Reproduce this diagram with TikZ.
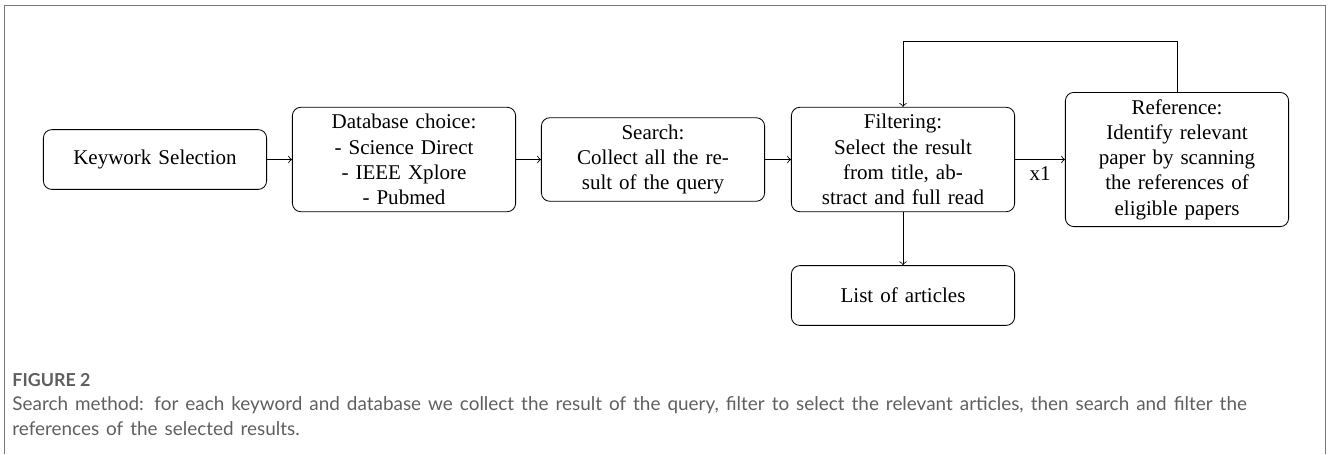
\documentclass[tikz,border=0pt]{standalone}
\usepackage{fontspec}
\setmainfont{Liberation Serif}
\newfontfamily\capfont{Lato}
\definecolor{framegray}{RGB}{120,120,120}
\definecolor{captiongray}{RGB}{95,95,95}
\tikzset{
 stage/.style={draw, rounded corners, align=center, text width=3.5cm, minimum height=1cm},
 link/.style={->},
}
\begin{document}
\begin{tikzpicture}[x=0.476pt,y=-0.476pt]
 \useasboundingbox (0,0) rectangle (1328,454);
 % page frame
 \draw[framegray](4,454)--(4,5)--(1325,5)--(1325,454);
 % stages
 \node[stage] (kw) at (155,159.5) {Keywork Selection};
 \node[stage] (db) at (404,159.5) {Database choice:\\- Science Direct\\- IEEE Xplore\\- Pubmed};
 \node[stage] (srch) at (653,159.5) {Search:\\Collect all the re-\\sult of the query};
 \node[stage] (filt) at (903,159.5) {Filtering:\\Select the result\\from title, ab-\\stract and full read};
 \node[stage] (ref) at (1177,159.5) {Reference:\\Identify relevant\\paper by scanning\\the references of\\eligible papers};
 \node[stage] (list) at (903,295.5) {List of articles};
 \coordinate (loop) at (903,41);
 % connectors
 \draw[link](kw)--(db);
 \draw[link](db)--(srch);
 \draw[link](srch)--(filt);
 \draw[link](filt)--node[below]{x1}(ref);
 \draw[link](filt)--(list);
 \draw[link](ref.north)|-(loop)--(filt.north);
 % caption
 \node[anchor=west,inner sep=0pt,text=captiongray] (fig) at (12,380) {\capfont\fontsize{8.5}{10}\selectfont\bfseries FIGURE 2};
 \node[anchor=north west,inner sep=0pt,text width=1281*0.476pt,text=captiongray] (cap) at (12,396)
  {\capfont\fontsize{9}{11}\selectfont\makebox[\linewidth][s]{Search method: for each keyword and database we collect the result of the query, filter to select the relevant articles, then search and filter the}\\references of the selected results.};
\end{tikzpicture}
\end{document}
